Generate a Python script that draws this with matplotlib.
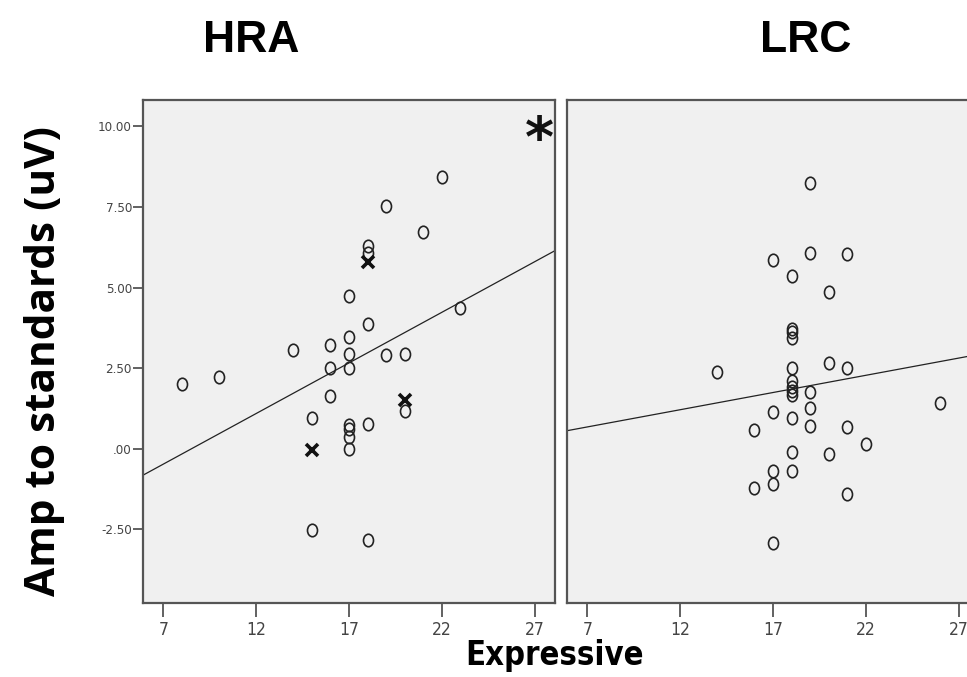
import matplotlib
matplotlib.use("Agg")
import matplotlib.pyplot as plt
import numpy as np
from matplotlib.path import Path
from matplotlib.transforms import Affine2D
from matplotlib import font_manager as fm

# ---------------- data ----------------
hra_x = [8, 10, 14, 15, 15, 16, 16, 16, 17, 17, 17, 17, 17, 17, 17, 17,
         18, 18, 18, 18, 18, 19, 19, 20, 20, 21, 22, 23]
hra_y = [2.02, 2.24, 3.07, 0.97, -2.53, 3.21, 2.50, 1.65, 4.74, 3.46, 2.94,
         2.50, 0.74, 0.61, 0.38, 0.00, 6.30, 6.07, 3.88, 0.77, -2.84, 7.54,
         2.92, 2.94, 1.18, 6.72, 8.42, 4.36]
hra_cross_x = [18, 15, 20]
hra_cross_y = [5.81, -0.02, 1.52]
hra_fit = (0.3137, -2.667)   # slope, intercept of fit line

lrc_x = [19, 17, 19, 21, 18, 20, 18, 18, 18, 14, 20, 21, 18, 18, 18, 18, 18,
         19, 19, 26, 17, 18, 16, 19, 21, 22, 18, 20, 17, 18, 17, 16, 21, 17]
lrc_y = [8.24, 5.87, 6.06, 6.03, 5.37, 4.86, 3.71, 3.64, 3.43, 2.37, 2.67,
         2.52, 2.50, 2.11, 1.93, 1.78, 1.68, 1.76, 1.28, 1.42, 1.13, 0.95,
         0.58, 0.71, 0.68, 0.14, -0.10, -0.16, -0.68, -0.70, -1.10, -1.20,
         -1.40, -2.93]
lrc_fit = (0.1067, -0.066)

panel_titles = ["HRA", "LRC"]
x_ticks = [7, 12, 17, 22, 27]
y_ticks = [-2.5, 0.0, 2.5, 5.0, 7.5, 10.0]
y_tick_labels = ["-2.50", ".00", "2.50", "5.00", "7.50", "10.00"]
x_label = "Expressive"
y_label = "Amp to standards (uV)"
sig_mark = "*"

# ---------------- style ----------------
W, H, DPI = 967, 677, 100
fig = plt.figure(figsize=(W / DPI, H / DPI), dpi=DPI, facecolor="white")

def cond_props(size, weight="normal"):
    return fm.FontProperties(family="DejaVu Sans", stretch="condensed",
                             weight=weight, size=size)

frame_c = "#555555"
bg_c = "#f0f0f0"
ink = "#222222"

ellipse = Path.unit_circle().transformed(Affine2D().scale(0.8, 1.0))

def px_to_fig(x0, y0, x1, y1):
    return [x0 / W, 1 - y1 / H, (x1 - x0) / W, (y1 - y0) / H]

ax1 = fig.add_axes(px_to_fig(143, 100, 555, 603))
ax2 = fig.add_axes(px_to_fig(567, 100, 979, 603))

xlim = (5.9, 28.1)
ylim = (-4.78, 10.82)

def style(ax, show_y):
    ax.set_facecolor(bg_c)
    ax.set_xlim(*xlim)
    ax.set_ylim(*ylim)
    for s in ax.spines.values():
        s.set_color(frame_c)
        s.set_linewidth(1.6)
    ax.set_xticks(x_ticks)
    ax.set_xticklabels([str(t) for t in x_ticks], fontproperties=cond_props(12.5),
                       color="#444444")
    ax.tick_params(axis="x", direction="out", length=10, width=1.3,
                   color=frame_c, pad=3)
    if show_y:
        ax.set_yticks(y_ticks)
        ax.set_yticklabels(y_tick_labels, fontproperties=cond_props(9.5),
                           color="#444444")
        ax.tick_params(axis="y", direction="out", length=7, width=1.3,
                       color=frame_c, pad=1)
    else:
        ax.set_yticks([])

style(ax1, True)
style(ax2, False)

def fit_line(ax, fit):
    xs = np.array(xlim)
    ax.plot(xs, fit[0] * xs + fit[1], color=ink, lw=0.9, zorder=2)

fit_line(ax1, hra_fit)
fit_line(ax2, lrc_fit)

for ax, xs, ys in [(ax1, hra_x, hra_y), (ax2, lrc_x, lrc_y)]:
    ax.plot(xs, ys, linestyle="none", marker=ellipse, markersize=9,
            markerfacecolor="none", markeredgecolor=ink, markeredgewidth=1.2,
            zorder=3)

ax1.plot(hra_cross_x, hra_cross_y, linestyle="none", marker="x",
         markersize=8.5, markeredgecolor="#111111", markeredgewidth=2.6,
         zorder=4)

ax1.text(0.962, 0.972, sig_mark, transform=ax1.transAxes, ha="center",
         va="top", fontsize=40, fontweight="bold", color="#111111",
         family="DejaVu Sans")

# ---------------- text ----------------
fig.text(251 / W, 1 - 40 / H, panel_titles[0], ha="center", va="center",
         fontsize=32, fontweight="bold", family="Liberation Sans")
fig.text(806 / W, 1 - 40 / H, panel_titles[1], ha="center", va="center",
         fontsize=32, fontweight="bold", family="Liberation Sans")

fig.text(45 / W, 1 - 361 / H, y_label, rotation=90, ha="center",
         va="center", fontsize=30.5, fontweight="bold", family="Open Sans")
fig.text(555 / W, 1 - 655 / H, x_label, ha="center", va="center",
         fontproperties=cond_props(23.5, "bold"))

fig.savefig("out.png", dpi=DPI, facecolor="white")
